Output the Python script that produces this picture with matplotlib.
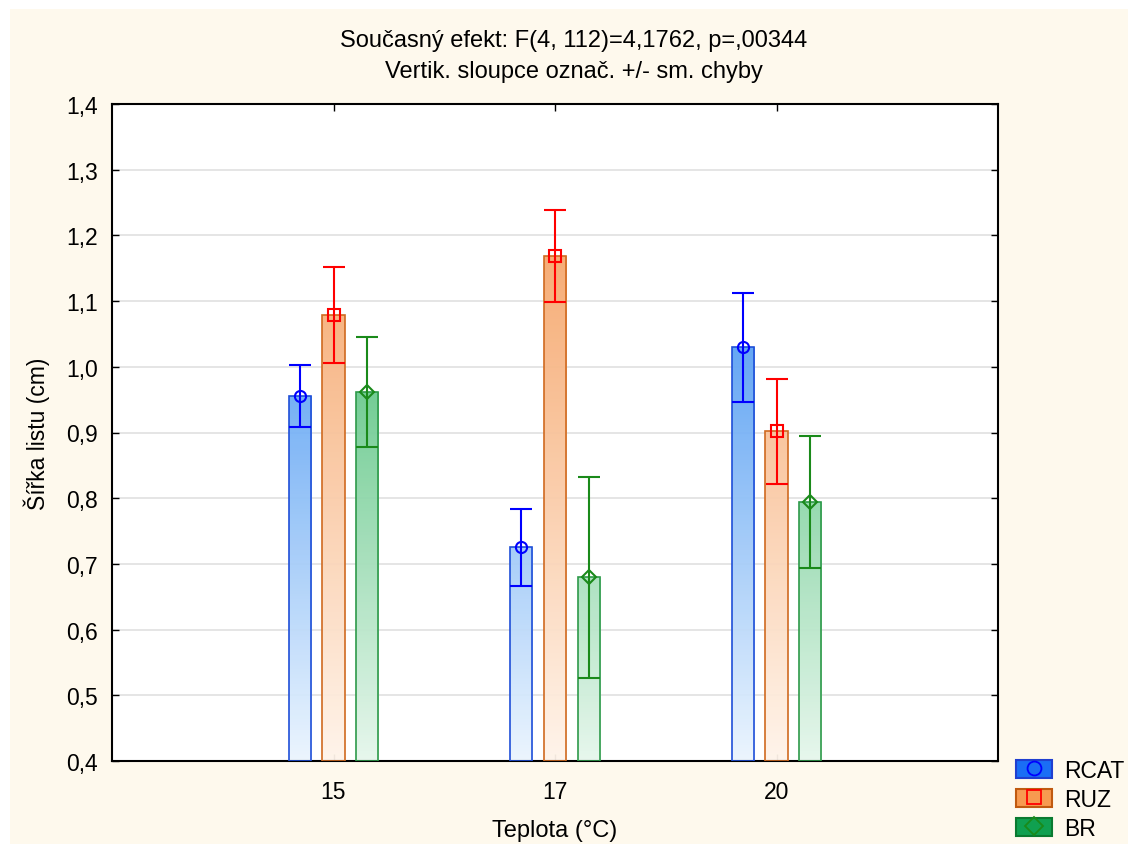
import numpy as np
import matplotlib.pyplot as plt
from matplotlib.patches import Rectangle
from matplotlib.lines import Line2D
from matplotlib.colors import LinearSegmentedColormap

plt.rcParams['font.family'] = ['Liberation Sans', 'DejaVu Sans']

# Data
teploty = ['15', '17', '20']
skupiny = ['RCAT', 'RUZ', 'BR']
prumer = {
    'RCAT': [0.956, 0.725, 1.030],
    'RUZ': [1.079, 1.169, 0.902],
    'BR': [0.962, 0.680, 0.794],
}
chyba = {
    'RCAT': [0.047, 0.058, 0.083],
    'RUZ': [0.073, 0.070, 0.080],
    'BR': [0.084, 0.153, 0.100],
}
yticks = [0.4, 0.5, 0.6, 0.7, 0.8, 0.9, 1.0, 1.1, 1.2, 1.3, 1.4]

# Styl skupin
styl = {
    'RCAT': dict(top='#0a72ee', bottom='#ebf5fe', edge='#1f4fd8', err='#0000ff',
                 marker='o', ms=8, leg_face='#1a6ef5', leg_edge='#1f3fd0'),
    'RUZ': dict(top='#f4924a', bottom='#fff4ea', edge='#d06a20', err='#ff0000',
                marker='s', ms=8, leg_face='#f79a50', leg_edge='#c05a10'),
    'BR': dict(top='#0ea848', bottom='#e6f7ec', edge='#2e9a4a', err='#1a8a1a',
               marker='D', ms=7, leg_face='#10a050', leg_edge='#0a7a30'),
}

fig = plt.figure(figsize=(11.28, 8.45), dpi=100)
fig.patch.set_facecolor('white')
# kremove pozadi
fig.patches.append(Rectangle((10 / 1128, 0), 1, 1 - 10 / 845, transform=fig.transFigure,
                             facecolor='#fef9ed', edgecolor='none', zorder=-10))

ax = fig.add_axes([112 / 1128, 1 - 762 / 845, (998 - 112) / 1128, (762 - 105) / 845])
ax.set_facecolor('white')
ax.set_xlim(0, 4)
ax.set_ylim(0.4, 1.4)

x = np.arange(1, len(teploty) + 1)
sirka = 0.1
posun = {'RCAT': -0.152, 'RUZ': 0.0, 'BR': 0.152}

for s in skupiny:
    st = styl[s]
    cmap = LinearSegmentedColormap.from_list(s, [st['bottom'], st['top']])
    grad = np.linspace(0, 1, 256).reshape(-1, 1)
    xs = x + posun[s]
    bars = ax.bar(xs, np.array(prumer[s]) - 0.4, bottom=0.4, width=sirka,
                  facecolor='none', edgecolor=st['edge'], linewidth=1.2, zorder=3)
    for b in bars:
        im = ax.imshow(grad, cmap=cmap, origin='lower', aspect='auto',
                       extent=[0, 4, 0.4, 1.4], zorder=2, alpha=0.95)
        im.set_clip_path(b)
    ax.errorbar(xs, prumer[s], yerr=chyba[s], fmt='none', ecolor=st['err'],
                elinewidth=1.5, capsize=8, capthick=1.5, zorder=4)
    ax.plot(xs, prumer[s], linestyle='none', marker=st['marker'], markersize=st['ms'],
            markerfacecolor='none', markeredgecolor=st['err'], markeredgewidth=1.5, zorder=5)

ax.set_xticks(x)
ax.set_xticklabels(teploty)
ax.set_yticks(yticks)
ax.set_yticklabels([f'{v:.1f}'.replace('.', ',') for v in yticks])
ax.tick_params(direction='in', length=5, width=1, labelsize=16.5, top=True, right=True,
               colors='black')
ax.tick_params(axis='x', pad=14)
ax.tick_params(axis='y', pad=10)
ax.grid(axis='y', color='#e0e0e0', linewidth=1.2, zorder=0)
ax.set_axisbelow(True)
for sp in ax.spines.values():
    sp.set_linewidth(1.5)

ax.set_xlabel('Teplota (°C)', fontsize=17, labelpad=11)
ax.set_ylabel('Šířka listu (cm)', fontsize=16.5, labelpad=12)

fig.text(574 / 1128, 1 - 41 / 845, 'Současný efekt: F(4, 112)=4,1762, p=,00344',
         ha='center', va='center', fontsize=17)
fig.text(574 / 1128, 1 - 72 / 845, 'Vertik. sloupce označ. +/- sm. chyby',
         ha='center', va='center', fontsize=17)

# legenda
handles = []
for s in skupiny:
    st = styl[s]
    handles.append((Rectangle((0, 0), 1, 1, facecolor=st['leg_face'], edgecolor=st['leg_edge'], linewidth=1.5),
                    Line2D([], [], linestyle='none', marker=st['marker'], markersize=st['ms'] + 2,
                           markerfacecolor='none', markeredgecolor=st['err'], markeredgewidth=1.3)))
leg = fig.legend(handles, skupiny, loc='lower left', bbox_to_anchor=(999 / 1128, -13 / 845),
                 frameon=False, fontsize=16.5, handlelength=1.55, handleheight=0.85,
                 handletextpad=0.55, labelspacing=0.26, borderpad=0.25)

fig.savefig('out.png', dpi=100, facecolor=fig.get_facecolor())
